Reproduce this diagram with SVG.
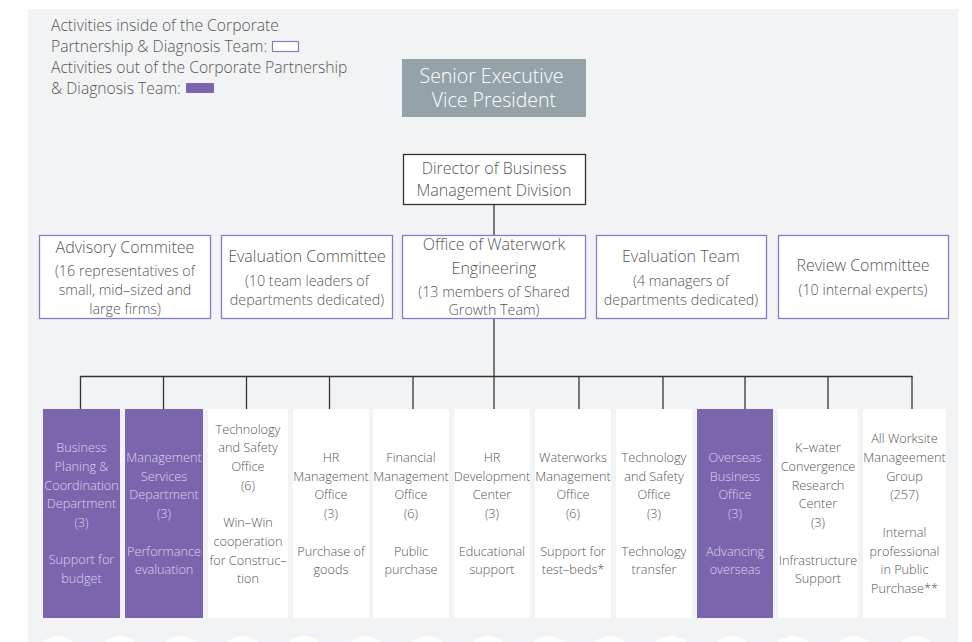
<svg xmlns="http://www.w3.org/2000/svg" width="972" height="642" viewBox="0 0 972 642">
  <style>
    text { font-family: "Open Sans", "Noto Sans", "Liberation Sans", sans-serif; font-weight: 300; fill: #575757; }
    .legend { font-size: 15.7px; }
    .mid { text-anchor: middle; }
    .t2 { font-size: 16px; }
    .s2 { font-size: 14.3px; }
    .col { font-size: 12.7px; text-anchor: middle; }
    .inv text, text.inv { fill: #dcd4f0; }
    .box2 { fill: #ffffff; stroke: #8a7bc2; stroke-width: 1.3; }
    .purple { fill: #7b65ad; }
    .white { fill: #ffffff; }
    .conn { stroke: #333333; stroke-width: 1.3; fill: none; }
  </style>

  <!-- page background -->
  <rect x="0" y="0" width="972" height="642" fill="#ffffff"/>
  <rect x="28" y="9" width="930" height="633" fill="#f2f3f5"/>

  <!-- scalloped white bumps along the bottom edge -->
  <g id="scallops" fill="#ffffff">
    <circle cx="58" cy="658" r="22"/>
    <circle cx="119.5" cy="658" r="22"/>
    <circle cx="181" cy="658" r="22"/>
    <circle cx="242.5" cy="658" r="22"/>
    <circle cx="304" cy="658" r="22"/>
    <circle cx="365.5" cy="658" r="22"/>
    <circle cx="427" cy="658" r="22"/>
    <circle cx="488" cy="658" r="22"/>
    <circle cx="549" cy="658" r="22"/>
    <circle cx="610" cy="658" r="22"/>
    <circle cx="671" cy="658" r="22"/>
    <circle cx="732" cy="658" r="22"/>
    <circle cx="793" cy="658" r="22"/>
    <circle cx="854" cy="658" r="22"/>
    <circle cx="916" cy="658" r="22"/>
  </g>

  <!-- legend -->
  <g id="legend">
    <text class="legend" x="51" y="31">Activities inside of the Corporate</text>
    <text class="legend" x="51" y="52">Partnership &amp; Diagnosis Team:</text>
    <rect x="272.5" y="41.5" width="26" height="10" fill="#ffffff" stroke="#8a7bc2" stroke-width="1.2"/>
    <text class="legend" x="51" y="73">Activities out of the Corporate Partnership</text>
    <text class="legend" x="51" y="94">&amp; Diagnosis Team:</text>
    <rect x="186" y="83" width="28" height="10" class="purple"/>
  </g>

  <!-- connectors -->
  <g id="connectors" class="conn">
    <line x1="494" y1="204" x2="494" y2="235"/>
    <line x1="494" y1="319" x2="494" y2="409"/>
    <line x1="80.5" y1="376.5" x2="912.5" y2="376.5"/>
    <line x1="80.5" y1="376" x2="80.5" y2="409"/>
    <line x1="163.5" y1="376" x2="163.5" y2="409"/>
    <line x1="246.5" y1="376" x2="246.5" y2="409"/>
    <line x1="329.5" y1="376" x2="329.5" y2="409"/>
    <line x1="413" y1="376" x2="413" y2="409"/>
    <line x1="579" y1="376" x2="579" y2="409"/>
    <line x1="663" y1="376" x2="663" y2="409"/>
    <line x1="745" y1="376" x2="745" y2="409"/>
    <line x1="828" y1="376" x2="828" y2="409"/>
    <line x1="912" y1="376" x2="912" y2="409"/>
  </g>

  <!-- top of hierarchy -->
  <g id="sevp">
    <rect x="402" y="59" width="184" height="58" fill="#95a3a9"/>
    <text class="mid" font-size="19.5" style="fill:#ffffff">
      <tspan x="494" y="83">Senior Executive</tspan>
      <tspan x="494" y="107">Vice President</tspan>
    </text>
  </g>

  <g id="director">
    <rect x="403.5" y="154.5" width="182" height="50" fill="#ffffff" stroke="#333333" stroke-width="1.3"/>
    <text class="mid t2" x="494" y="174">Director of Business</text>
    <text class="mid t2" x="494" y="196">Management Division</text>
  </g>

  <!-- committees row -->
  <g id="advisory">
    <rect class="box2" x="39.5" y="235.5" width="171" height="83"/>
    <text class="mid t2" x="125" y="253">Advisory Commitee</text>
    <text class="mid s2" x="125" y="276">(16 representatives of</text>
    <text class="mid s2" x="125" y="295">small, mid–sized and</text>
    <text class="mid s2" x="125" y="314">large firms)</text>
  </g>

  <g id="eval-committee">
    <rect class="box2" x="221.5" y="235.5" width="171" height="83"/>
    <text class="mid t2" x="307" y="262">Evaluation Committee</text>
    <text class="mid s2" x="307" y="286">(10 team leaders of</text>
    <text class="mid s2" x="307" y="305">departments dedicated)</text>
  </g>

  <g id="waterwork-office">
    <rect class="box2" x="402.5" y="235.5" width="183" height="83"/>
    <text class="mid t2" x="494" y="250">Office of Waterwork</text>
    <text class="mid t2" x="494" y="274">Engineering</text>
    <text class="mid s2" x="494" y="297">(13 members of Shared</text>
    <text class="mid s2" x="494" y="315">Growth Team)</text>
  </g>

  <g id="eval-team">
    <rect class="box2" x="596.5" y="235.5" width="170" height="83"/>
    <text class="mid t2" x="681" y="262">Evaluation Team</text>
    <text class="mid s2" x="681" y="286">(4 managers of</text>
    <text class="mid s2" x="681" y="305">departments dedicated)</text>
  </g>

  <g id="review">
    <rect class="box2" x="778.5" y="235.5" width="170" height="83"/>
    <text class="mid t2" x="863" y="271">Review Committee</text>
    <text class="mid s2" x="863" y="295">(10 internal experts)</text>
  </g>

  <!-- departments row -->
  <g id="dept-planning" class="inv">
    <rect class="purple" x="43" y="409" width="77" height="209"/>
    <text class="col" x="81.5" y="452">Business</text>
    <text class="col" x="81.5" y="471">Planing &amp;</text>
    <text class="col" x="81.5" y="490">Coordination</text>
    <text class="col" x="81.5" y="508">Department</text>
    <text class="col" x="81.5" y="527">(3)</text>
    <text class="col" x="81.5" y="564">Support for</text>
    <text class="col" x="81.5" y="583">budget</text>
  </g>

  <g id="dept-mgmt-services" class="inv">
    <rect class="purple" x="125" y="409" width="78" height="209"/>
    <text class="col" x="164" y="462">Management</text>
    <text class="col" x="164" y="481">Services</text>
    <text class="col" x="164" y="499">Department</text>
    <text class="col" x="164" y="518">(3)</text>
    <text class="col" x="164" y="556">Performance</text>
    <text class="col" x="164" y="574">evaluation</text>
  </g>

  <g id="dept-tech-safety-1">
    <rect class="white" x="208" y="409" width="80" height="209"/>
    <text class="col" x="248" y="434">Technology</text>
    <text class="col" x="248" y="452">and Safety</text>
    <text class="col" x="248" y="471">Office</text>
    <text class="col" x="248" y="490">(6)</text>
    <text class="col" x="248" y="527">Win–Win</text>
    <text class="col" x="248" y="546">cooperation</text>
    <text class="col" x="248" y="565">for Construc–</text>
    <text class="col" x="248" y="583">tion</text>
  </g>

  <g id="dept-hr-mgmt">
    <rect class="white" x="293" y="409" width="76" height="209"/>
    <text class="col" x="331" y="462">HR</text>
    <text class="col" x="331" y="481">Management</text>
    <text class="col" x="331" y="499">Office</text>
    <text class="col" x="331" y="518">(3)</text>
    <text class="col" x="331" y="556">Purchase of</text>
    <text class="col" x="331" y="574">goods</text>
  </g>

  <g id="dept-financial">
    <rect class="white" x="373" y="409" width="76" height="209"/>
    <text class="col" x="411" y="462">Financial</text>
    <text class="col" x="411" y="481">Management</text>
    <text class="col" x="411" y="499">Office</text>
    <text class="col" x="411" y="518">(6)</text>
    <text class="col" x="411" y="556">Public</text>
    <text class="col" x="411" y="574">purchase</text>
  </g>

  <g id="dept-hr-dev">
    <rect class="white" x="454" y="409" width="76" height="209"/>
    <text class="col" x="492" y="462">HR</text>
    <text class="col" x="492" y="481">Development</text>
    <text class="col" x="492" y="499">Center</text>
    <text class="col" x="492" y="518">(3)</text>
    <text class="col" x="492" y="556">Educational</text>
    <text class="col" x="492" y="574">support</text>
  </g>

  <g id="dept-waterworks">
    <rect class="white" x="535" y="409" width="76" height="209"/>
    <text class="col" x="573" y="462">Waterworks</text>
    <text class="col" x="573" y="481">Management</text>
    <text class="col" x="573" y="499">Office</text>
    <text class="col" x="573" y="518">(6)</text>
    <text class="col" x="573" y="556">Support for</text>
    <text class="col" x="573" y="574">test–beds*</text>
  </g>

  <g id="dept-tech-safety-2">
    <rect class="white" x="616" y="409" width="76" height="209"/>
    <text class="col" x="654" y="462">Technology</text>
    <text class="col" x="654" y="481">and Safety</text>
    <text class="col" x="654" y="499">Office</text>
    <text class="col" x="654" y="518">(3)</text>
    <text class="col" x="654" y="556">Technology</text>
    <text class="col" x="654" y="574">transfer</text>
  </g>

  <g id="dept-overseas" class="inv">
    <rect class="purple" x="697" y="409" width="76" height="209"/>
    <text class="col" x="735" y="462">Overseas</text>
    <text class="col" x="735" y="481">Business</text>
    <text class="col" x="735" y="499">Office</text>
    <text class="col" x="735" y="518">(3)</text>
    <text class="col" x="735" y="556">Advancing</text>
    <text class="col" x="735" y="574">overseas</text>
  </g>

  <g id="dept-convergence">
    <rect class="white" x="778" y="409" width="80" height="209"/>
    <text class="col" x="818" y="452">K–water</text>
    <text class="col" x="818" y="471">Convergence</text>
    <text class="col" x="818" y="490">Research</text>
    <text class="col" x="818" y="508">Center</text>
    <text class="col" x="818" y="527">(3)</text>
    <text class="col" x="818" y="565">Infrastructure</text>
    <text class="col" x="818" y="583">Support</text>
  </g>

  <g id="dept-worksite">
    <rect class="white" x="863" y="409" width="83" height="209"/>
    <text class="col" x="904.5" y="443">All Worksite</text>
    <text class="col" x="904.5" y="462">Manageement</text>
    <text class="col" x="904.5" y="481">Group</text>
    <text class="col" x="904.5" y="499">(257)</text>
    <text class="col" x="904.5" y="537">Internal</text>
    <text class="col" x="904.5" y="556">professional</text>
    <text class="col" x="904.5" y="574">in Public</text>
    <text class="col" x="904.5" y="593">Purchase**</text>
  </g>
</svg>
